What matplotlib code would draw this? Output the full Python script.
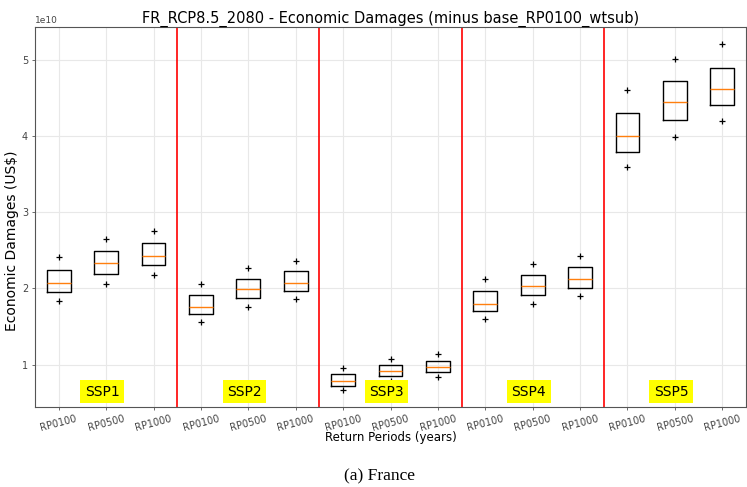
import numpy as np
import matplotlib
matplotlib.use('Agg')
import matplotlib.pyplot as plt

# Data (values in units of 1e10 US$)
scenarios = ['SSP1', 'SSP2', 'SSP3', 'SSP4', 'SSP5']
return_periods = ['RP0100', 'RP0500', 'RP1000']

q1 = [1.956, 2.188, 2.306, 1.659, 1.874, 1.969, 0.721, 0.852, 0.904,
      1.698, 1.913, 2.008, 3.794, 4.209, 4.401]
med = [2.074, 2.332, 2.424, 1.756, 1.991, 2.074, 0.781, 0.917, 0.970,
       1.795, 2.031, 2.126, 3.995, 4.445, 4.615]
q3 = [2.244, 2.489, 2.594, 1.913, 2.126, 2.227, 0.878, 1.000, 1.052,
      1.960, 2.179, 2.280, 4.296, 4.724, 4.899]
flier_lo = [1.838, 2.061, 2.179, 1.554, 1.760, 1.864, 0.669, 0.790, 0.839,
            1.602, 1.795, 1.900, 3.593, 3.990, 4.192]
flier_hi = [2.415, 2.650, 2.751, 2.061, 2.270, 2.362, 0.957, 1.075, 1.140,
            2.117, 2.319, 2.424, 4.606, 5.008, 5.204]

scale = 1e10

# build the box stats
stats = []
for i in range(len(med)):
    stats.append({
        'med': med[i] * scale,
        'q1': q1[i] * scale,
        'q3': q3[i] * scale,
        'whislo': q1[i] * scale,
        'whishi': q3[i] * scale,
        'fliers': np.array([flier_lo[i], flier_hi[i]]) * scale,
    })

plt.rcParams['axes.edgecolor'] = '#555555'
plt.rcParams['xtick.color'] = '#555555'
plt.rcParams['ytick.color'] = '#555555'
plt.rcParams['xtick.labelcolor'] = '#444444'
plt.rcParams['ytick.labelcolor'] = '#444444'

fig = plt.figure(figsize=(7.47, 4.87), dpi=100)
ax = fig.add_axes([35 / 747, 1 - 407 / 487, (746 - 35) / 747, (407 - 27) / 487])

positions = np.arange(1, len(med) + 1)
ax.bxp(stats, positions=positions, widths=0.5, showcaps=False,
       boxprops=dict(color='black', linewidth=1),
       medianprops=dict(color='#ff7f0e', linewidth=1),
       flierprops=dict(marker='+', markeredgecolor='black', markersize=5,
                       markeredgewidth=0.9))

ax.set_xlim(0.5, len(med) + 0.5)
ax.set_xticks(positions)
ax.set_xticklabels(return_periods * len(scenarios), rotation=15, fontsize=7)
ax.tick_params(axis='y', labelsize=7)
ax.tick_params(length=2.5, width=0.6, pad=2.5)
ax.yaxis.get_offset_text().set_fontsize(6.5)
ax.grid(True, color='#e8e8e8', linewidth=0.8)
ax.set_axisbelow(True)

# separators and scenario labels
for k in range(1, len(scenarios)):
    ax.axvline(3 * k + 0.5, color='red', linewidth=1.2)
for k, name in enumerate(scenarios):
    ax.text(3 * k + 2 - 0.08, 0.64 * scale, name, ha='center', va='center',
            fontsize=10, bbox=dict(facecolor='yellow', edgecolor='none', pad=3.2))

ax.set_title('FR_RCP8.5_2080 - Economic Damages (minus base_RP0100_wtsub)',
             fontsize=10.5, pad=3)
ax.set_ylabel('Economic Damages (US\\$)', fontsize=10)
ax.yaxis.set_label_coords(-0.0225, (407 - 241) / 380)
ax.set_xlabel('Return Periods (years)', fontsize=8.5, labelpad=-1.5)

fig.text(379 / 747, 1 - 476 / 487, '(a) France', ha='center', va='center',
         fontsize=12.5, family='Liberation Serif')

fig.savefig('out.png', dpi=100)
